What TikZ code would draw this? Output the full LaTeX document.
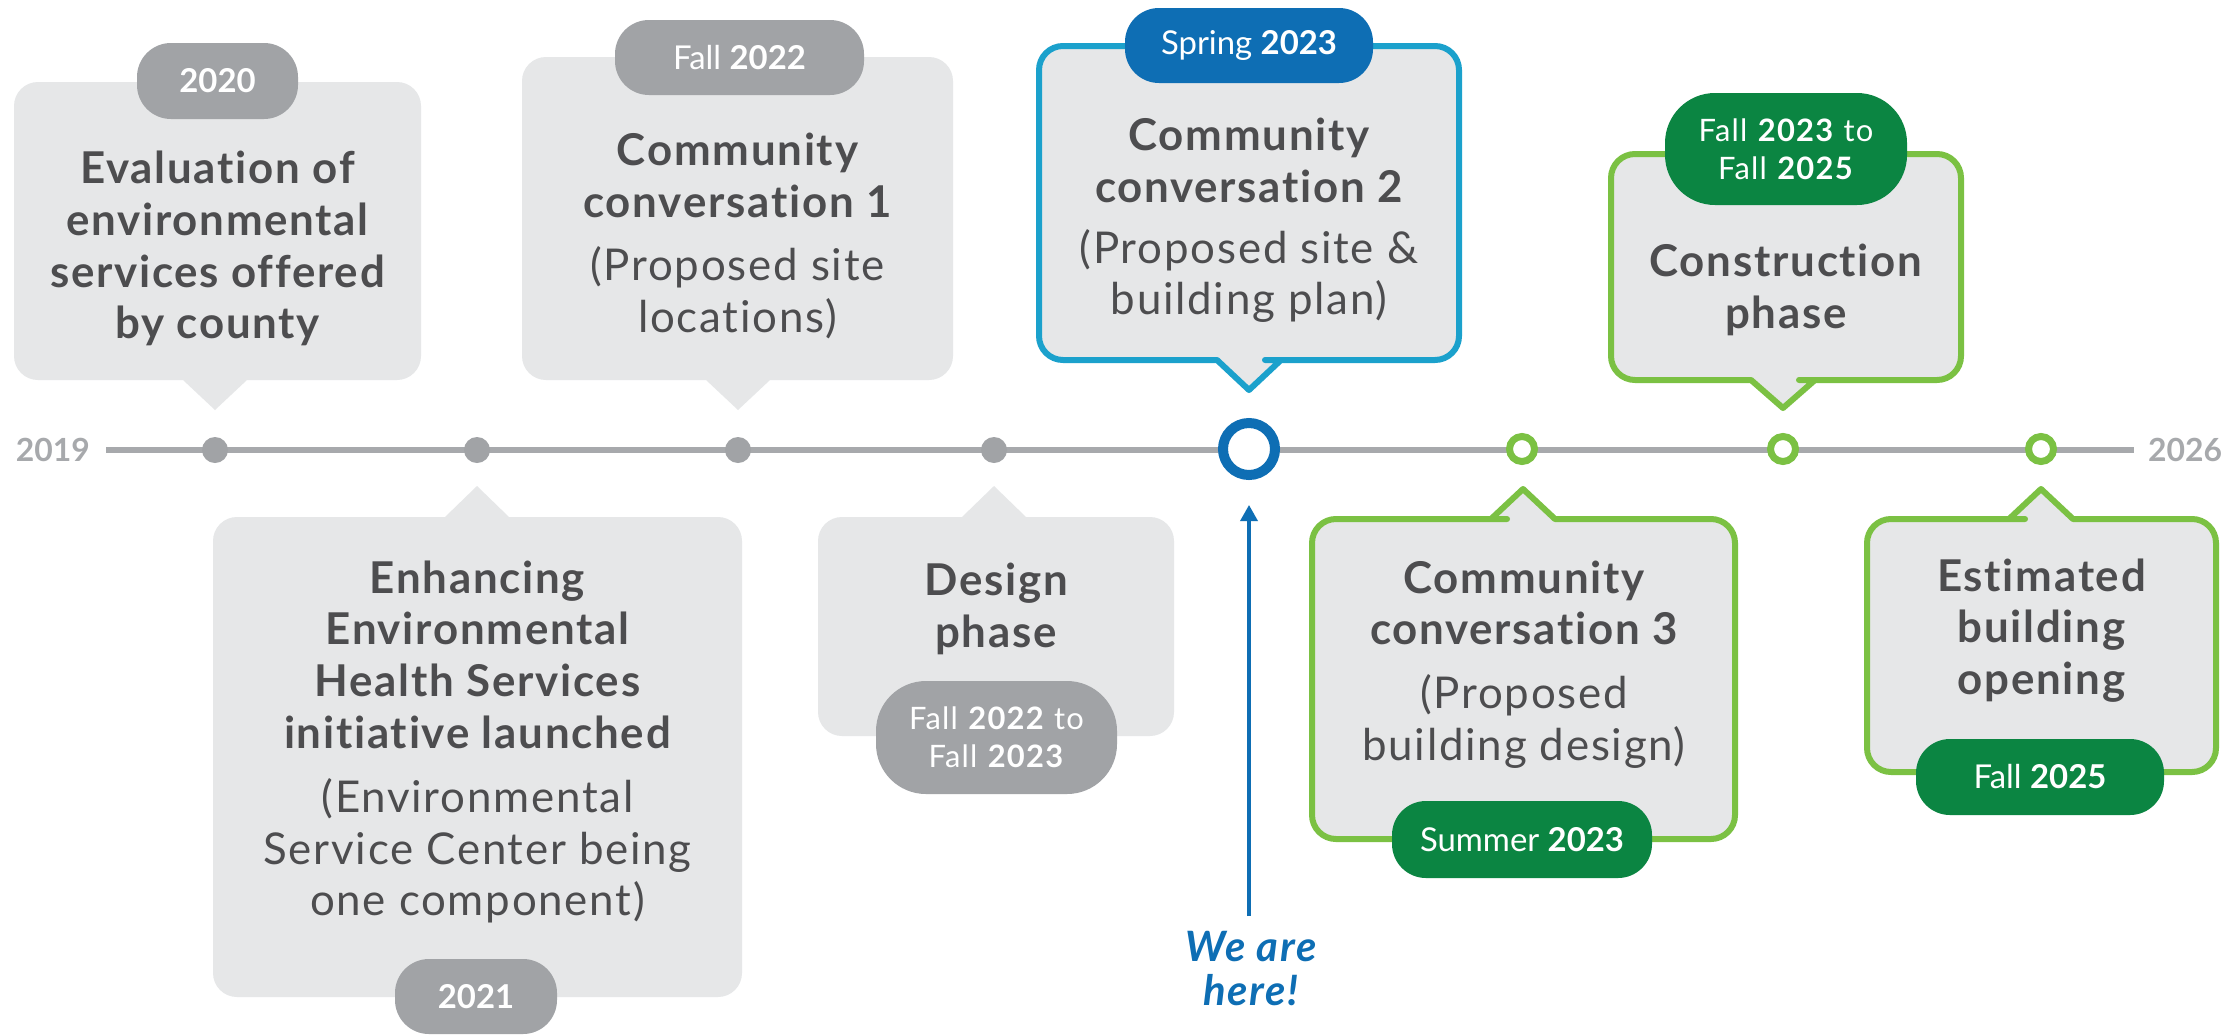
\documentclass[tikz,border=0pt]{standalone}
\usepackage{fontspec}
\setmainfont{Lato}
\newfontfamily\headfont{Lato}[LetterSpace=4,Ligatures=NoCommon]
\usetikzlibrary{arrows.meta}
\definecolor{boxfill}{HTML}{E6E7E8}
\definecolor{pillgrey}{HTML}{A1A3A6}
\definecolor{txtdark}{HTML}{4D4D4F}
\definecolor{linegrey}{HTML}{A7A9AC}
\definecolor{cyanline}{HTML}{1BA1CC}
\definecolor{bluepill}{HTML}{0E6EB4}
\definecolor{greenline}{HTML}{7BC143}
\definecolor{greenpill}{HTML}{0B8542}
% box with pointer downwards: #1 style, #2 x1, #3 ytop, #4 x2, #5 ybottom, #6 tip x, #7 tip y
\newcommand{\tlboxdown}[7]{%
  \path[#1] (#2,{(#3+#5)/2}) [rounded corners=24bp] -- (#2,#3) -- (#4,#3) -- (#4,#5) -- (#6+40,#5)
    [sharp corners] -- (#6+32,#5) -- (#6,#7) -- (#6-32,#5) -- (#6-40,#5)
    [rounded corners=24bp] -- (#2,#5) -- cycle;}
% box with pointer upwards
\newcommand{\tlboxup}[7]{%
  \path[#1] (#2,{(#3+#5)/2}) [rounded corners=24bp] -- (#2,#3) -- (#6-40,#3)
    [sharp corners] -- (#6-32,#3) -- (#6,#7) -- (#6+32,#3) -- (#6+40,#3)
    [rounded corners=24bp] -- (#4,#3) -- (#4,#5) -- (#2,#5) -- cycle;}
\begin{document}
\begin{tikzpicture}[x=1bp,y=-1bp,
  gbox/.style={fill=boxfill},
  cbox/.style={fill=boxfill,draw=cyanline,line width=6bp,line join=round},
  lgbox/.style={fill=boxfill,draw=greenline,line width=6bp,line join=round},
  pill/.style={rounded corners=34bp,inner sep=0pt,text=white,align=center,
    font=\fontsize{33}{38}\selectfont},
  pilltwo/.style={pill,rounded corners=50bp,font=\headfont\fontsize{31}{38}\selectfont},
  head/.style={text=txtdark,align=center,inner sep=0pt,
    font=\headfont\fontsize{44}{52}\selectfont\bfseries},
  yearlbl/.style={text=linegrey,inner sep=0pt,font=\fontsize{32}{38}\selectfont\bfseries},
  greydot/.style={circle,fill=pillgrey,minimum size=26bp,inner sep=0pt},
  greenring/.style={circle,draw=greenline,fill=white,line width=7bp,minimum size=25bp,inner sep=0pt},
  bluering/.style={circle,draw=bluepill,fill=white,line width=10bp,minimum size=52bp,inner sep=0pt},
]
\useasboundingbox (0,0) rectangle (2228,1035);
\fill[white] (0,0) rectangle (2228,1035);

% timeline
\coordinate (tlstart) at (106,450);
\coordinate (tlend) at (2134,450);
\draw[linegrey,line width=6bp] (tlstart) -- (tlend);
\node[yearlbl,anchor=east] (y2019) at (90,450) {2019};
\node[yearlbl,anchor=west] (y2026) at (2148,450) {2026};

% boxes above
\tlboxdown{gbox}{14}{82}{421}{380}{215}{410}
\tlboxdown{gbox}{522}{57}{953}{380}{738}{410}
\tlboxdown{cbox}{1039}{46}{1459}{360}{1249}{390}
\tlboxdown{lgbox}{1611}{154}{1961}{380}{1783}{408}
% boxes below
\tlboxup{gbox}{213}{517}{742}{997}{477}{486}
\tlboxup{gbox}{818}{517}{1174}{736}{994}{486}
\tlboxup{lgbox}{1312}{519}{1735}{839}{1523}{489}
\tlboxup{lgbox}{1867}{519}{2216}{772}{2041}{489}

% texts
\node[head] (ta) at (217.5,248.5) {Evaluation of\\environmental\\services offered\\by county};
\node[head] (tb) at (737.5,236) {Community\\conversation 1\\[12bp]\mdseries(Proposed site\\\mdseries locations)};
\node[head] (tc) at (1249,220.5) {Community\\conversation 2\\[9bp]\mdseries(Proposed site \&\\\mdseries building plan)};
\node[head] (tg) at (1786,290) {Construction\\phase};
\node[head] (td) at (477.5,742) {Enhancing\\Environmental\\Health Services\\initiative launched\\[12bp]\mdseries(Environmental\\\mdseries Service Center being\\\mdseries one component)};
\node[head] (te) at (996,609) {Design\\phase};
\node[head] (tf) at (1524,664.5) {Community\\conversation 3\\[12bp]\mdseries(Proposed\\\mdseries building design)};
\node[head] (th) at (2041.5,630.5) {Estimated\\building\\opening};

% pills
\node[pill,fill=pillgrey,minimum width=161bp,minimum height=76bp] (p2020) at (217.5,81) {\bfseries 2020};
\node[pill,fill=pillgrey,minimum width=249bp,minimum height=75bp] (pf2022) at (739.5,57.5) {Fall \textbf{2022}};
\node[pill,fill=bluepill,minimum width=248bp,minimum height=75bp] (ps2023) at (1249,45.5) {Spring \textbf{2023}};
\node[pilltwo,fill=greenpill,minimum width=242bp,minimum height=112bp] (pconst) at (1786,149) {Fall \textbf{2023} to\\Fall \textbf{2025}};
\node[pill,fill=pillgrey,minimum width=162bp,minimum height=75bp] (p2021) at (476,996.5) {\bfseries 2021};
\node[pilltwo,fill=pillgrey,minimum width=241bp,minimum height=113bp] (pdesign) at (996.5,737.5) {Fall \textbf{2022} to\\Fall \textbf{2023}};
\node[pill,fill=greenpill,minimum width=260bp,minimum height=77bp] (psummer) at (1522,839.5) {Summer \textbf{2023}};
\node[pill,fill=greenpill,minimum width=248bp,minimum height=76bp] (pf2025) at (2040,777) {Fall \textbf{2025}};

% markers
\node[greydot] (m1) at (215,450) {};
\node[greydot] (m2) at (477,450) {};
\node[greydot] (m3) at (738,450) {};
\node[greydot] (m4) at (994,450) {};
\node[bluering] (now) at (1249,449) {};
\node[greenring] (m6) at (1522,449) {};
\node[greenring] (m7) at (1783,449) {};
\node[greenring] (m8) at (2041,449) {};

% we are here
\coordinate (herefoot) at (1249,916);
\draw[bluepill,line width=3.5bp,-{Triangle[width=17bp,length=16bp]},shorten >=25bp] (herefoot) -- (now.south);
\node[text=bluepill,align=center,inner sep=0pt,font=\headfont\fontsize{42}{44}\selectfont\bfseries\itshape] (here) at (1251,968.5) {We are\\here!};
\end{tikzpicture}
\end{document}
